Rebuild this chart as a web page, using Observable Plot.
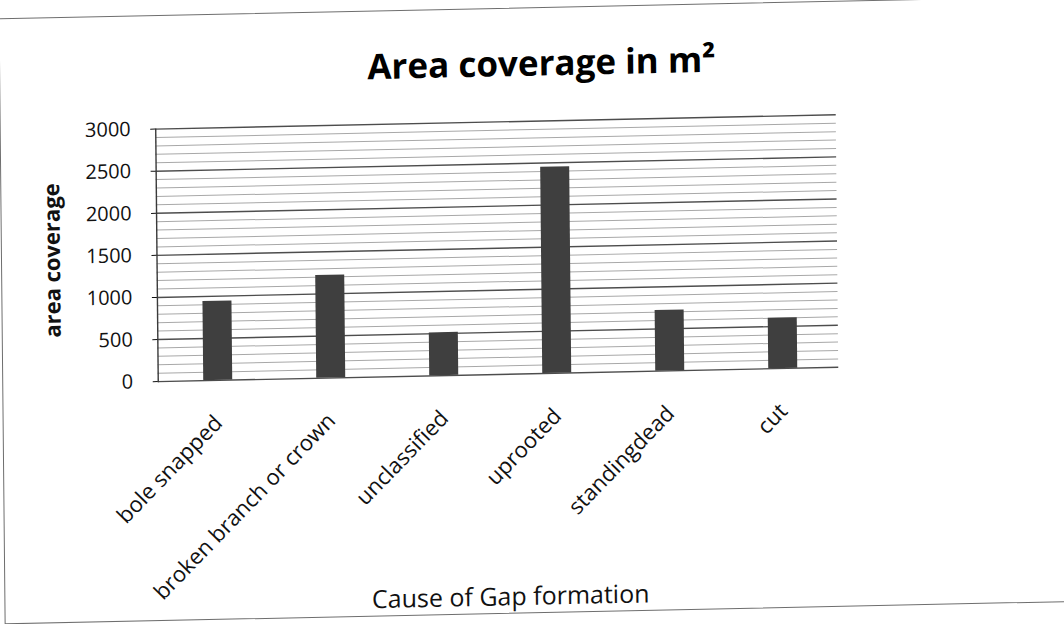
<!DOCTYPE html>
<html>
<head>
<meta charset="utf-8">
<script src="https://cdn.jsdelivr.net/npm/d3@7"></script>
<script src="https://cdn.jsdelivr.net/npm/@observablehq/plot@0.6"></script>
<style>
  html, body { margin: 0; padding: 0; background: #fff; }
  #sheet { position: relative; width: 1064px; height: 624px; overflow: hidden; background: #fff; }
  /* the printed chart sits slightly skewed on the page */
  #chart {
    position: absolute; left: 0; top: 0; width: 1064px; height: 624px;
    transform-origin: 495px 250px;
    transform: matrix(1, -0.021, 0.01, 1, 0, 0);
  }
  #border {
    position: absolute; left: 1px; top: 8px; width: 1084px; height: 606px;
    border: 1.5px solid #6e6e6e; box-sizing: border-box;
  }
  #chart svg { position: absolute; left: 0; top: 0; }
</style>
</head>
<body>
<div id="sheet"><div id="chart"><div id="border"></div></div></div>
<script>
// Gap formation causes and the area (m²) each one covers
const categories = ["bole snapped", "broken branch or crown", "unclassified", "uprooted", "standingdead", "cut"];
const areas = [940, 1220, 510, 2450, 720, 600];

// value axis: labelled major ticks and unlabelled minor gridlines
const yTicks = [0, 500, 1000, 1500, 2000, 2500, 3000];
const minorStep = 100;

const titleText = "Area coverage in m²";
const yTitle = "area coverage";
const xTitle = "Cause of Gap formation";

const rows = categories.map((cause, i) => ({cause, area: areas[i]}));
const minorTicks = d3.range(0, 3000 + minorStep, minorStep).filter(v => !yTicks.includes(v));

const chart = Plot.plot({
  width: 1064,
  height: 624,
  marginTop: 121.5,
  marginBottom: 250,
  marginLeft: 156.5,
  marginRight: 227,
  style: {fontFamily: "'Open Sans', Lato, sans-serif", background: "transparent", color: "#000"},
  x: {domain: categories, range: [160, 838], paddingInner: 0.743, paddingOuter: 0.3715, axis: null},
  y: {domain: [0, 3000], axis: null},
  marks: [
    Plot.ruleY(minorTicks, {stroke: "#a8a8a8", strokeWidth: 1}),
    Plot.ruleY(yTicks, {stroke: "#4d4d4d", strokeWidth: 1.4}),
    Plot.frame({anchor: "left", stroke: "#3a3a3a", strokeWidth: 1.4}),
    Plot.axisY({ticks: yTicks, tickSize: 5, tickPadding: 20, fontSize: 20, fontWeight: 500, tickFormat: d => String(d), label: null, color: "#111"}),
    Plot.barY(rows, {x: "cause", y: "area", fill: "#3f3f3f"}),
    Plot.text(categories, {x: d => d, frameAnchor: "bottom", rotate: -45, textAnchor: "end", lineAnchor: "top", dx: -6, dy: 33, fontSize: 22, fontWeight: 500, fill: "#111"}),
    Plot.text([titleText], {frameAnchor: "top", lineAnchor: "bottom", dx: 46, dy: -45.5, fontSize: 35, fontWeight: "bold", fill: "#000"}),
    Plot.text([yTitle], {frameAnchor: "left", rotate: -90, textAnchor: "middle", lineAnchor: "bottom", dx: -97, dy: 3, fontSize: 22, fontWeight: "bold", fill: "#111"}),
    Plot.text([xTitle], {frameAnchor: "bottom", lineAnchor: "bottom", dx: 10, dy: 231, fontSize: 25, fontWeight: 500, fill: "#111"})
  ]
});

document.getElementById("chart").appendChild(chart);
</script>
</body>
</html>
